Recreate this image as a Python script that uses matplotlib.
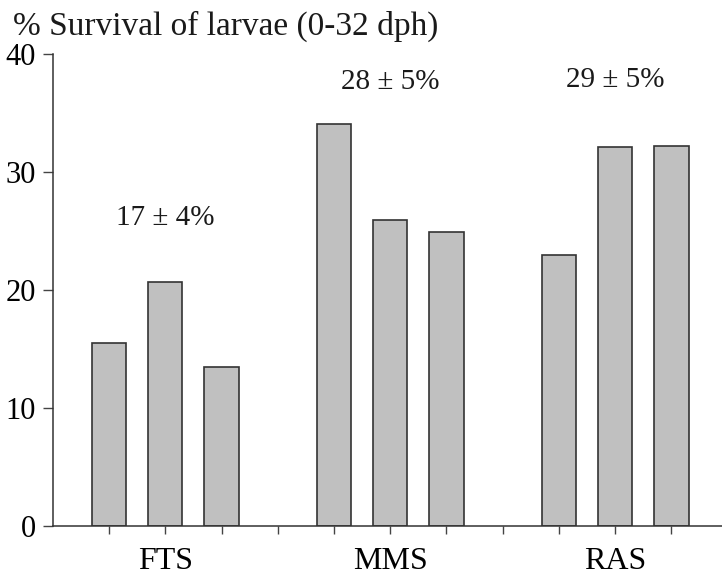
import matplotlib.pyplot as plt

systems = ["FTS", "MMS", "RAS"]
survival = [
    [15.5, 20.7, 13.5],
    [34.1, 25.9, 24.9],
    [23.0, 32.1, 32.2],
]
means = ["17 ± 4%", "28 ± 5%", "29 ± 5%"]
mean_label_y = [26.1, 37.6, 37.8]

plt.rcParams["font.family"] = ["Liberation Serif", "DejaVu Serif"]

fig = plt.figure(figsize=(7.22, 5.78), dpi=100)
ax = fig.add_axes([52.8 / 722, 1 - 526 / 578, (722 - 52.8) / 722, (526 - 54) / 578])

# three bars per system, with an empty slot between groups
slot = 0
group_centres = []
for values in survival:
    positions = [slot + i for i in range(len(values))]
    ax.bar(positions, values, width=0.61, color="#c0c0c0",
           edgecolor="#333333", linewidth=1.2)
    group_centres.append(positions[1])
    slot += len(values) + 1

tick_labels = [""] * (slot - 1)
for centre, name in zip(group_centres, systems):
    tick_labels[centre] = name

ax.set_xlim(-1, 10.9)
ax.set_ylim(0, 40)
ax.set_yticks([0, 10, 20, 30, 40])
ax.set_xticks(range(0, slot - 1))
ax.set_xticklabels(tick_labels)
ax.tick_params(axis="x", length=6, width=1, color="#444444", pad=9, labelsize=23)
ax.tick_params(axis="y", length=7, width=1, pad=5, labelsize=22, color="#444444")

for side in ("top", "right"):
    ax.spines[side].set_visible(False)
for side in ("left", "bottom"):
    ax.spines[side].set_color("#333333")
    ax.spines[side].set_linewidth(1.1)

for x, label, y in zip(group_centres, means, mean_label_y):
    ax.text(x, y, label, ha="center", va="center", fontsize=21, color="#1a1a1a")

fig.text(13 / 722, 1 - 26 / 578, "% Survival of larvae (0-32 dph)",
         ha="left", va="center", fontsize=24, color="#1a1a1a")

fig.savefig("out.png", dpi=100)
